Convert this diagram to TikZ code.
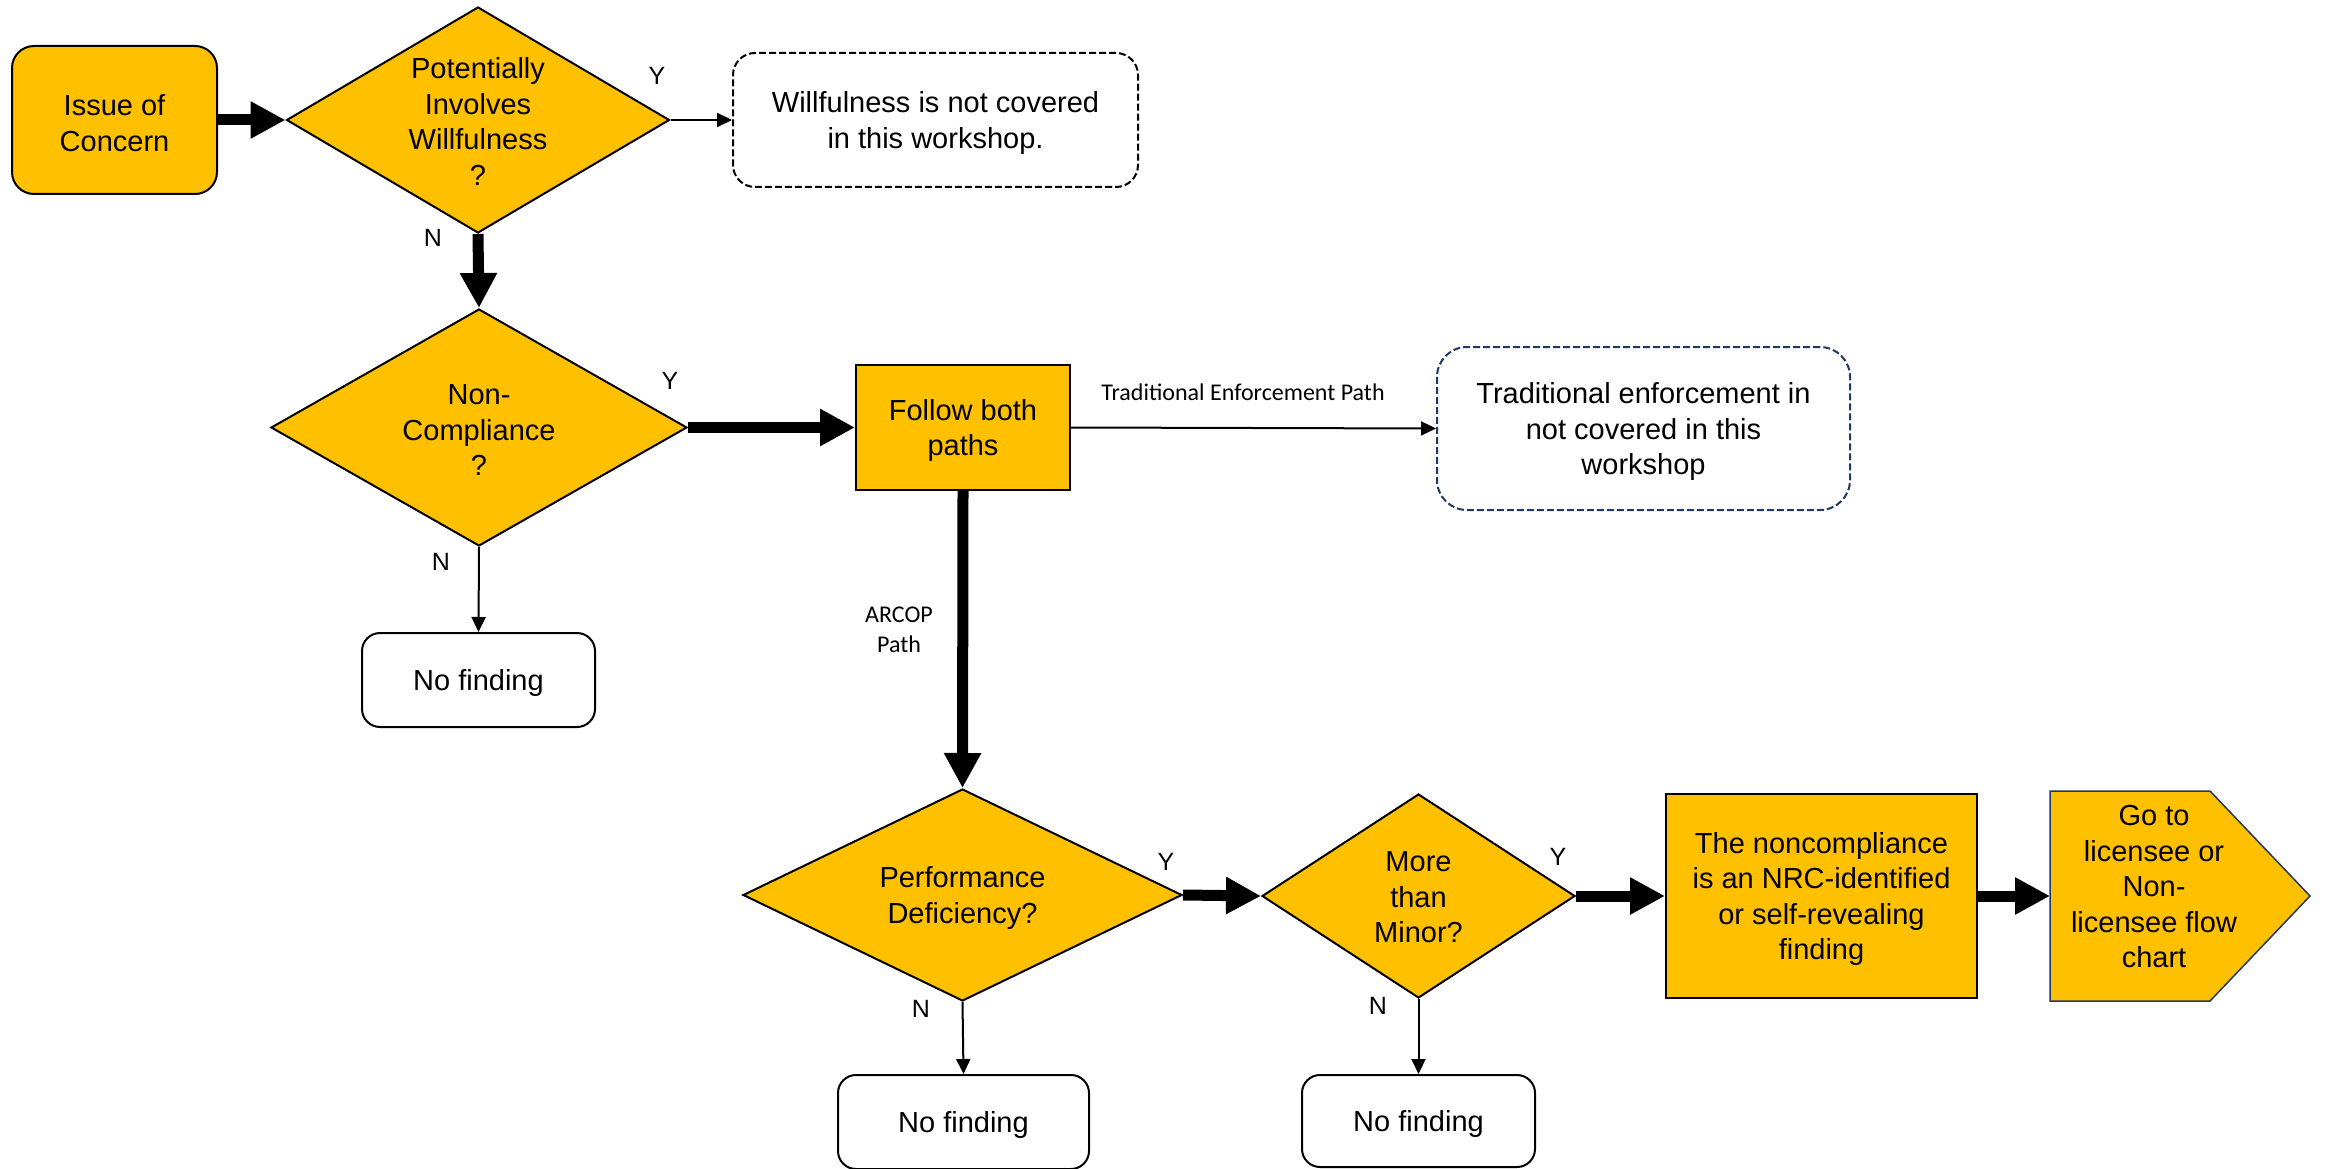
\documentclass[tikz,border=0pt]{standalone}
\usepackage{fontspec}
\setmainfont{Liberation Sans}
\newfontfamily\calfont{Carlito}
\usetikzlibrary{shapes.geometric,arrows.meta}
\definecolor{gold}{HTML}{FFC000}
\definecolor{navy}{HTML}{1F3864}
\tikzset{
  maintext/.style={font=\fontsize{29}{35.5}\selectfont, align=center, yshift=-3pt},
  yn/.style={font=\fontsize{25}{30}\selectfont, inner sep=0pt},
  smalltext/.style={font=\calfont\fontsize{24}{29.5}\selectfont, align=center, inner sep=0pt},
  goldbox/.style={draw, line width=2pt, fill=gold, inner sep=0pt},
  diam/.style={diamond, draw, line width=2pt, fill=gold, inner sep=0pt},
  nfbox/.style={draw, line width=2pt, rounded corners=18pt, inner sep=0pt},
  dashbox/.style={draw, line width=2pt, dash pattern=on 7pt off 3pt, inner sep=0pt},
  bigarrow/.style={line width=11pt, -{Triangle[length=35pt,width=35pt]}},
  thinarrow/.style={line width=2pt, -{Triangle[length=15pt,width=14pt]}},
}
\begin{document}
\begin{tikzpicture}[x=1pt,y=-1pt]
\useasboundingbox (0,0) rectangle (2326,1169);
% nodes
\node[goldbox, rounded corners=22pt, minimum width=205pt, minimum height=148pt] (issue) at (114.5,120) {};
\node[maintext] (issuet) at (issue.center) {Issue of\\Concern};
\node[diam, minimum width=383pt, minimum height=226pt] (d1) at (478,120) {};
\node[maintext, yshift=1.5pt] (d1t) at (d1.center) {Potentially\\Involves\\Willfulness\\?};
\node[dashbox, rounded corners=22pt, minimum width=405pt, minimum height=134pt] (will) at (935.5,120) {};
\node[maintext] (willt) at (will.center) {Willfulness is not covered\\in this workshop.};
\node[diam, minimum width=416pt, minimum height=237pt] (d2) at (479,427.5) {};
\node[maintext] (d2t) at (d2.center) {Non-\\Compliance\\?};
\node[nfbox, minimum width=233pt, minimum height=94pt] (nf1) at (478.5,680) {};
\node[maintext] (nf1t) at (nf1.center) {No finding};
\node[goldbox, minimum width=214pt, minimum height=125pt] (follow) at (963,427.5) {};
\node[maintext] (followt) at (follow.center) {Follow both\\paths};
\node[dashbox, draw=navy, rounded corners=30pt, minimum width=413pt, minimum height=163pt] (trad) at (1643.5,428.5) {};
\node[maintext] (tradt) at (trad.center) {Traditional enforcement in\\not covered in this\\workshop};
\node[diam, minimum width=439pt, minimum height=212pt] (d3) at (962.5,895) {};
\node[maintext] (d3t) at (d3.center) {Performance\\Deficiency?};
\node[nfbox, minimum width=251pt, minimum height=94pt] (nf2) at (963.5,1122) {};
\node[maintext] (nf2t) at (nf2.center) {No finding};
\node[diam, minimum width=313pt, minimum height=204pt] (d4) at (1418.5,896) {};
\node[maintext, yshift=1.5pt] (d4t) at (d4.center) {More\\than\\Minor?};
\node[nfbox, minimum width=233pt, minimum height=92pt] (nf3) at (1418.5,1121) {};
\node[maintext] (nf3t) at (nf3.center) {No finding};
\node[goldbox, minimum width=311pt, minimum height=204pt] (nrc) at (1821.5,896) {};
\node[maintext] (nrct) at (nrc.center) {The noncompliance\\is an NRC-identified\\or self-revealing\\finding};
% pentagon
\coordinate (goW) at (2050,896);
\draw[line width=1.5pt, draw=navy, fill=gold] (2050,791) -- (2210,791) -- (2310,896) -- (2210,1001) -- (2050,1001) -- cycle;
\node[maintext] (go) at (2154,884) {Go to\\licensee or\\Non-\\licensee flow\\chart};
% connectors
\draw[bigarrow] (issue.east) -- (d1.west);
\draw[thinarrow] (d1.east) -- (will.west);
\draw[bigarrow] (d1.south) -- (d2.north);
\draw[bigarrow] (d2.east) -- (follow.west);
\draw[thinarrow] (d2.south) -- (nf1.north);
\draw[thinarrow] (follow.east) -- (trad.west);
\draw[bigarrow] (follow.south) -- (d3.north);
\draw[thinarrow] (d3.south) -- (nf2.north);
\draw[bigarrow] (d3.east) -- (d4.west);
\draw[thinarrow] (d4.south) -- (nf3.north);
\draw[bigarrow] (d4.east) -- (nrc.west);
\draw[bigarrow] (nrc.east) -- (goW);
% labels
\node[yn] (y1) at (657,76) {Y};
\node[yn] (n1) at (433,238) {N};
\node[yn] (y2) at (670,381) {Y};
\node[yn] (n2) at (441,562) {N};
\node[yn] (y3) at (1166,862) {Y};
\node[yn] (n3) at (921,1009) {N};
\node[yn] (y4) at (1558,857) {Y};
\node[yn] (n4) at (1378,1006) {N};
\node[smalltext] (tep) at (1243,392) {Traditional Enforcement Path};
\node[smalltext] (arcop) at (899,630) {ARCOP\\Path};
\end{tikzpicture}
\end{document}
